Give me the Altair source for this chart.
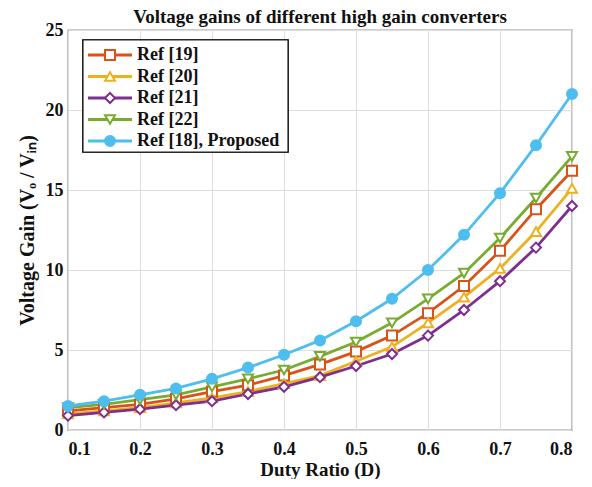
import altair as alt
import pandas as pd

duty = [0.1, 0.15, 0.2, 0.25, 0.3, 0.35, 0.4, 0.45, 0.5, 0.55, 0.6, 0.65, 0.7, 0.75, 0.8]
ref19 = [1.2, 1.4, 1.6, 1.95, 2.4, 2.8, 3.4, 4.1, 4.9, 5.9, 7.3, 9.0, 11.2, 13.8, 16.2]
ref20 = [1.0, 1.2, 1.4, 1.7, 2.0, 2.4, 2.9, 3.4, 4.3, 5.2, 6.7, 8.3, 10.1, 12.4, 15.1]
ref21 = [0.9, 1.1, 1.3, 1.55, 1.8, 2.25, 2.7, 3.3, 4.0, 4.75, 5.9, 7.5, 9.3, 11.4, 14.0]
ref22 = [1.4, 1.6, 1.9, 2.2, 2.7, 3.2, 3.75, 4.6, 5.5, 6.7, 8.2, 9.8, 12.0, 14.5, 17.1]
proposed = [1.5, 1.8, 2.2, 2.6, 3.2, 3.9, 4.7, 5.6, 6.8, 8.2, 10.0, 12.2, 14.8, 17.8, 21.0]

names = ["Ref [19]", "Ref [20]", "Ref [21]", "Ref [22]", "Ref [18], Proposed"]
colors = ["#D95319", "#EDB120", "#7E2F8E", "#77AC30", "#4DBEEE"]
shapes = ["square", "triangle-up", "diamond", "triangle-down", "circle"]
fills = ["white", "white", "white", "white", "#4DBEEE"]
x_ticks = [0.1, 0.2, 0.3, 0.4, 0.5, 0.6, 0.7, 0.8]
y_ticks = [0, 5, 10, 15, 20, 25]

rows = []
for name, vals in zip(names, [ref19, ref20, ref21, ref22, proposed]):
    for d, v in zip(duty, vals):
        rows.append({"D": d, "gain": v, "series": name})
df = pd.DataFrame(rows)
leg = pd.DataFrame({"series": names})

FONT = "Liberation Serif"
W, H = 504, 400

stroke_scale = alt.Scale(domain=names, range=colors)
shape_scale = alt.Scale(domain=names, range=shapes)
fill_scale = alt.Scale(domain=names, range=fills)

x_enc = alt.X("D:Q", scale=alt.Scale(domain=[0.1, 0.8], nice=False),
              axis=alt.Axis(values=x_ticks, format=".1f", title="Duty Ratio (D)",
                            labelPadding=10, titlePadding=2, titleFontSize=19))
y_enc = alt.Y("gain:Q", scale=alt.Scale(domain=[0, 25], nice=False),
              axis=alt.Axis(values=y_ticks, title="Voltage Gain (V\u2092 / V\u1d62\u2099)",
                            labelPadding=5, titlePadding=8))

lines = alt.Chart(df).mark_line(strokeWidth=2.8).encode(
    x=x_enc, y=y_enc,
    stroke=alt.Stroke("series:N", scale=stroke_scale, legend=None),
    detail="series:N",
)
points = alt.Chart(df).mark_point(size=100, strokeWidth=2, opacity=1).encode(
    x="D:Q", y="gain:Q",
    stroke=alt.Stroke("series:N", scale=stroke_scale, legend=None),
    shape=alt.Shape("series:N", scale=shape_scale, legend=None),
    fill=alt.Fill("series:N", scale=fill_scale, legend=None),
)
main = alt.layer(lines, points)

leg_y = alt.Y("series:N", scale=alt.Scale(type="point", domain=names, range=[25, 111], padding=0),
              axis=None)
box = alt.Chart(leg).mark_rect(fill="white", stroke="#222", strokeWidth=1.2).encode(
    x=alt.value(15), x2=alt.value(220), y=alt.value(10), y2=alt.value(122))
leg_lines = alt.Chart(leg).mark_rule(strokeWidth=2.8).encode(
    x=alt.value(20), x2=alt.value(64), y=leg_y,
    stroke=alt.Stroke("series:N", scale=stroke_scale, legend=None))
leg_pts = alt.Chart(leg).mark_point(size=100, strokeWidth=2, opacity=1).encode(
    x=alt.value(42), y=leg_y,
    stroke=alt.Stroke("series:N", scale=stroke_scale, legend=None),
    shape=alt.Shape("series:N", scale=shape_scale, legend=None),
    fill=alt.Fill("series:N", scale=fill_scale, legend=None))
leg_txt = alt.Chart(leg).mark_text(align="left", baseline="middle", font=FONT,
                                   fontSize=18, fontWeight="bold", color="#111").encode(
    x=alt.value(69), y=leg_y, text="series:N")

legend = alt.layer(box, leg_lines, leg_pts, leg_txt)

chart = alt.layer(main, legend).resolve_scale(y="independent").properties(
    width=W, height=H,
    autosize=alt.AutoSizeParams(type="none"),
    padding={"left": 60, "top": 22, "right": 12, "bottom": 49},
    title=alt.Title("Voltage gains of different high gain converters", font=FONT,
                    fontSize=19, fontWeight="bold", color="#111", offset=-6),
).configure_view(stroke="#333", strokeWidth=1.2).configure_axis(
    labelFont=FONT, labelFontSize=18, labelFontWeight="bold", labelColor="#111",
    titleFont=FONT, titleFontSize=20, titleFontWeight="bold", titleColor="#111",
    gridColor="#dddddd", gridWidth=1, domain=False, ticks=False,
)

chart.save("out.html", embed_options={"renderer": "svg", "actions": False})
